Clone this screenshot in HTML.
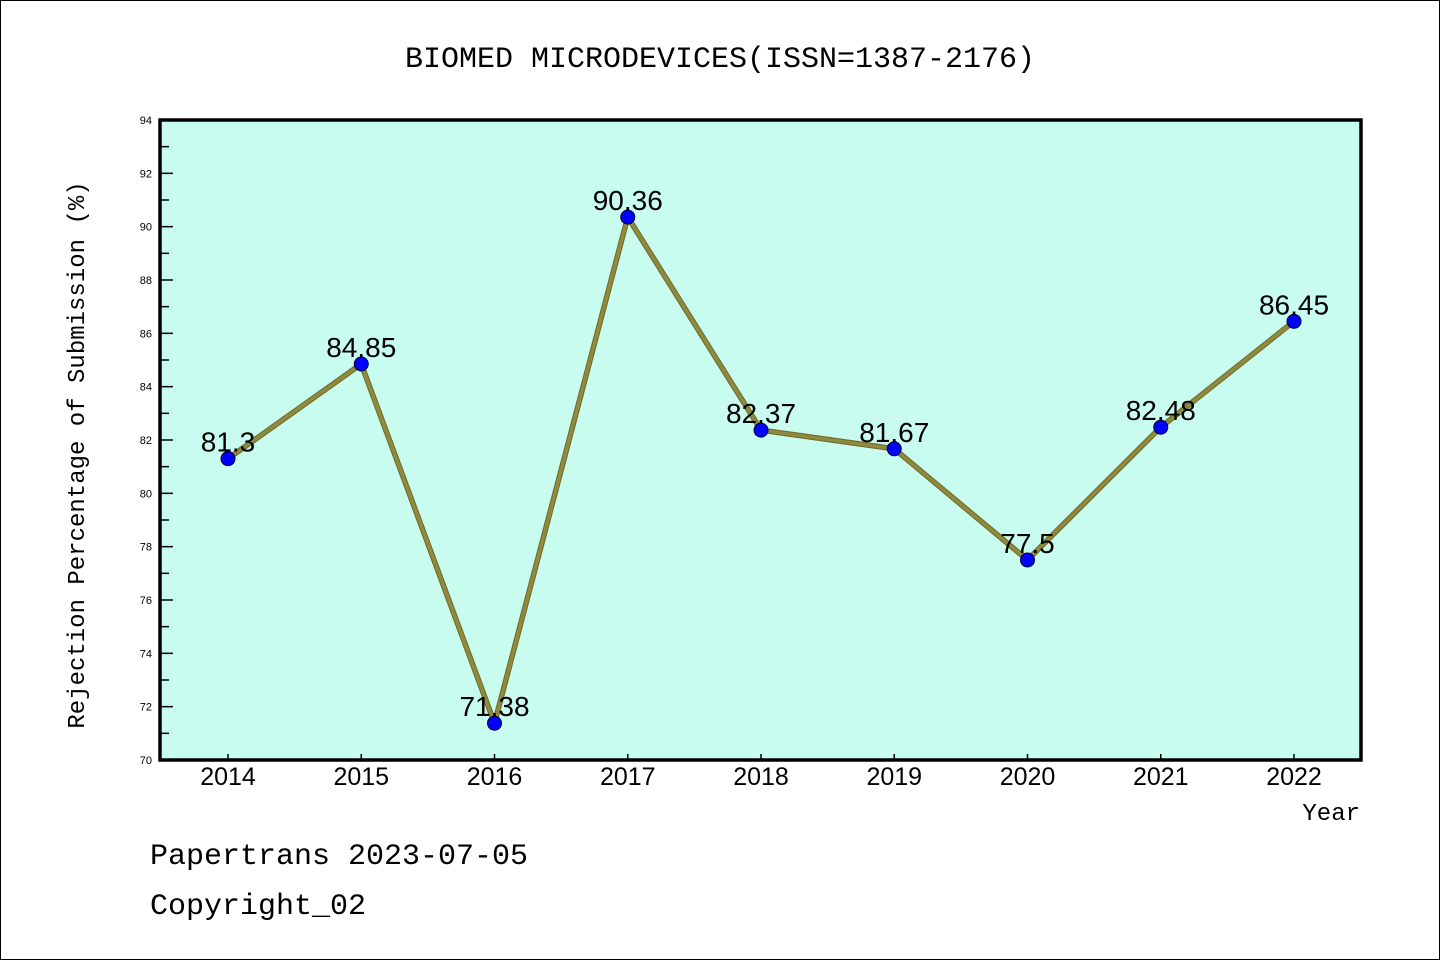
<!DOCTYPE html>
<html><head><meta charset="utf-8"><style>
body{margin:0;background:#fff}
svg{display:block;font-family:"Liberation Mono","DejaVu Sans Mono",monospace}
</style></head><body>
<svg id="c" width="1440" height="960" xmlns="http://www.w3.org/2000/svg">
<rect x="0.5" y="0.5" width="1439" height="959" fill="#fff" stroke="#000"/>
<text x="720" y="67" text-anchor="middle" font-size="30">BIOMED MICRODEVICES(ISSN=1387-2176)</text>
<rect x="160" y="120" width="1201" height="640" fill="#c8fcee"/>
<g id="ticks"></g>
<g id="series"></g>
<rect x="160" y="120" width="1201" height="640" fill="none" stroke="#000" stroke-width="3.5"/>
<text transform="translate(84,455) rotate(-90)" text-anchor="middle" font-size="24">Rejection Percentage of Submission (%)</text>
<text x="1360" y="820" text-anchor="end" font-size="24">Year</text>
<text x="150" y="864" font-size="30">Papertrans 2023-07-05</text>
<text x="150" y="914" font-size="30">Copyright_02</text>
</svg>
<script>
const categories=["2014","2015","2016","2017","2018","2019","2020","2021","2022"];
const values=[81.3,84.85,71.38,90.36,82.37,81.67,77.5,82.48,86.45];
const valueLabels=["81.3","84.85","71.38","90.36","82.37","81.67","77.5","82.48","86.45"];
const yTicks=[70,72,74,76,78,80,82,84,86,88,90,92,94];
const NS="http://www.w3.org/2000/svg";
const x0=228,xStep=133.25,yMin=70,yMax=94,yTop=120,yBot=760;
function xs(i){return x0+i*xStep;}
function ys(v){return yBot-(v-yMin)/(yMax-yMin)*(yBot-yTop);}
function mk(tag,attrs,parent){const e=document.createElementNS(NS,tag);for(const k in attrs)e.setAttribute(k,attrs[k]);parent.appendChild(e);return e;}
const tg=document.getElementById('ticks'),sg=document.getElementById('series');
yTicks.forEach((t,i)=>{
  const y=ys(t);
  const l=mk('line',{x1:160,x2:173,y1:y,y2:y,stroke:'#000','stroke-width':1.5},tg);
  
  
  const tx=mk('text',{x:152,y:y+4,'text-anchor':'end','font-size':11,'font-family':'Liberation Sans, sans-serif'},tg);
  tx.textContent=t;
  
  
  if(i<yTicks.length-1){
    const ym=ys(t+1);
    const m=mk('line',{x1:160,x2:169,y1:ym,y2:ym,stroke:'#000','stroke-width':1.5},tg);
    
    
  }
});
categories.forEach((c,i)=>{
  const x=xs(i);
  const l=mk('line',{x1:x,x2:x,y1:760,y2:754,stroke:'#000','stroke-width':1.5},tg);
  
  
  const tx=mk('text',{x:x,y:785,'text-anchor':'middle','font-size':25,'font-family':'Liberation Sans, sans-serif'},tg);
  tx.textContent=c;
  
  
});
const pts=values.map((v,i)=>xs(i)+','+ys(v)).join(' ');
const pl0=mk('polyline',{points:pts,fill:'none',stroke:'#6d6a2c','stroke-width':5.5,'stroke-linejoin':'round'},sg);


const pl=mk('polyline',{points:pts,fill:'none',stroke:'#8f8a3e','stroke-width':3.5,'stroke-linejoin':'round'},sg);


values.forEach((v,i)=>{
  const c=mk('circle',{cx:xs(i),cy:ys(v),r:7,fill:'#0000ff',stroke:'#000033','stroke-width':1},sg);
  
  
  const t=mk('text',{x:xs(i),y:ys(v)-7,'text-anchor':'middle','font-size':28,'font-family':'Liberation Sans, sans-serif'},sg);
  t.textContent=valueLabels[i];
  
  
});
</script>
</body></html>
